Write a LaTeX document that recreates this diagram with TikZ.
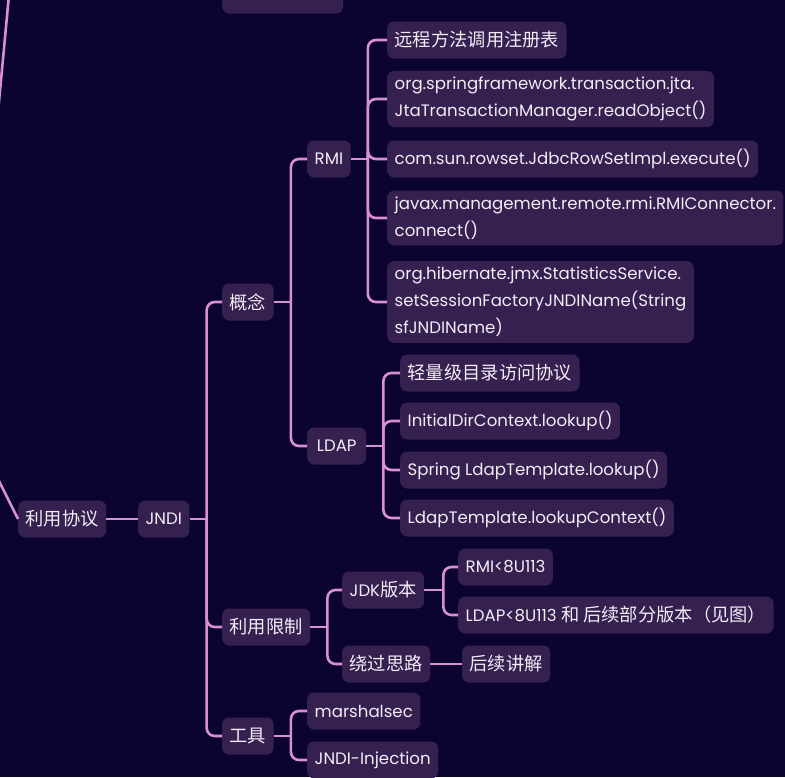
\documentclass[tikz,border=0pt]{standalone}
\usepackage{fontspec}
\setmainfont{Poppins}
\newfontfamily\cjk{Noto Sans CJK SC}[Scale=1.1]
\usetikzlibrary{positioning}
\definecolor{bgc}{HTML}{0B0430}
\definecolor{boxc}{HTML}{35204F}
\definecolor{linec}{HTML}{D98ED8}
\definecolor{txtc}{HTML}{F2ECF7}
\tikzset{
    topic/.style={fill=boxc, text=txtc, rounded corners=7pt, inner xsep=7.5pt,
        inner ysep=6pt, minimum height=37pt, align=left, anchor=west,
        font=\fontsize{16.6}{27}\selectfont},
    branch/.style={draw=linec, line width=2.6pt, rounded corners=8pt},
}

\begin{document}
\begin{tikzpicture}[x=1pt, y=-1pt]
    \fill[bgc] (0,0) rectangle (785,777);
    \useasboundingbox (0,0) rectangle (785,777);
    \clip (0,0) rectangle (785,777);

    % cut-off parts from above and from the left
    \node[topic, minimum width=121pt] (usage) at (222,-5) {};
    \coordinate (upA) at (-2,112);
    \coordinate (upB) at (9,-5);
    \coordinate (rootA) at (-10,463);

    \node[topic] (proto) at (18,519) {\cjk 利用协议};
    \node[topic] (jndi) at (138,519) {JNDI};

    \node[topic] (concept) at (222,302) {\cjk 概念};
    \node[topic] (limit) at (222,627) {\cjk 利用限制};
    \node[topic] (tools) at (222,736) {\cjk 工具};

    \node[topic] (rmi) at (307,159) {RMI};
    \node[topic, minimum width=59pt] (ldap) at (307,446) {LDAP};

    \node[topic] (rmi1) at (387,40) {\cjk 远程方法调用注册表};
    \node[topic] (rmi2) at (387,99) {org.springframework.transaction.jta.\\JtaTransactionManager.readObject()};
    \node[topic] (rmi3) at (387,159) {com.sun.rowset.JdbcRowSetImpl.execute()};
    \node[topic] (rmi4) at (387,218) {javax.management.remote.rmi.RMIConnector.\\connect()};
    \node[topic] (rmi5) at (387,302) {org.hibernate.jmx.StatisticsService.\\setSessionFactoryJNDIName(String\\sfJNDIName)};

    \node[topic] (ldap1) at (400,373) {\cjk 轻量级目录访问协议};
    \node[topic] (ldap2) at (400,421) {InitialDirContext.lookup()};
    \node[topic] (ldap3) at (400,470) {Spring LdapTemplate.lookup()};
    \node[topic] (ldap4) at (400,518) {LdapTemplate.lookupContext()};

    \node[topic] (jdk) at (342,590) {JDK{\cjk 版本}};
    \node[topic] (bypass) at (342,664) {\cjk 绕过思路};
    \node[topic] (jdk1) at (458,567) {RMI<8U113};
    \node[topic] (jdk2) at (458,615) {LDAP<8U113 {\cjk 和 后续部分版本（见图）}};
    \node[topic] (later) at (462,664) {\cjk 后续讲解};

    \node[topic] (ms) at (307,711) {marshalsec};
    \node[topic] (ji) at (307,760) {JNDI-Injection};

    % trunks
    \coordinate (jndiT) at ([xshift=17pt]jndi.east);
    \coordinate (conceptT) at ([xshift=17pt]concept.east);
    \coordinate (rmiT) at ([xshift=17pt]rmi.east);
    \coordinate (ldapT) at ([xshift=17pt]ldap.east);
    \coordinate (limitT) at ([xshift=17pt]limit.east);
    \coordinate (jdkT) at ([xshift=19pt]jdk.east);
    \coordinate (toolsT) at ([xshift=17pt]tools.east);

    \draw[branch] (upA) -- (upB);
    \draw[branch] (rootA) -- (proto.west);
    \draw[branch] (proto) -- (jndi);
    \draw[branch] (jndi.east) -- (jndiT);
    \foreach \c in {concept,limit,tools}
        \draw[branch] (jndiT) |- (\c.west);
    \draw[branch] (concept.east) -- (conceptT);
    \foreach \c in {rmi,ldap}
        \draw[branch] (conceptT) |- (\c.west);
    \draw[branch] (rmi.east) -- (rmiT);
    \foreach \c in {rmi1,rmi2,rmi3,rmi4,rmi5}
        \draw[branch] (rmiT) |- (\c.west);
    \draw[branch] (ldap.east) -- (ldapT);
    \foreach \c in {ldap1,ldap2,ldap3,ldap4}
        \draw[branch] (ldapT) |- (\c.west);
    \draw[branch] (limit.east) -- (limitT);
    \foreach \c in {jdk,bypass}
        \draw[branch] (limitT) |- (\c.west);
    \draw[branch] (jdk.east) -- (jdkT);
    \foreach \c in {jdk1,jdk2}
        \draw[branch] (jdkT) |- (\c.west);
    \draw[branch] (bypass) -- (later);
    \draw[branch] (tools.east) -- (toolsT);
    \foreach \c in {ms,ji}
        \draw[branch] (toolsT) |- (\c.west);
\end{tikzpicture}
\end{document}
